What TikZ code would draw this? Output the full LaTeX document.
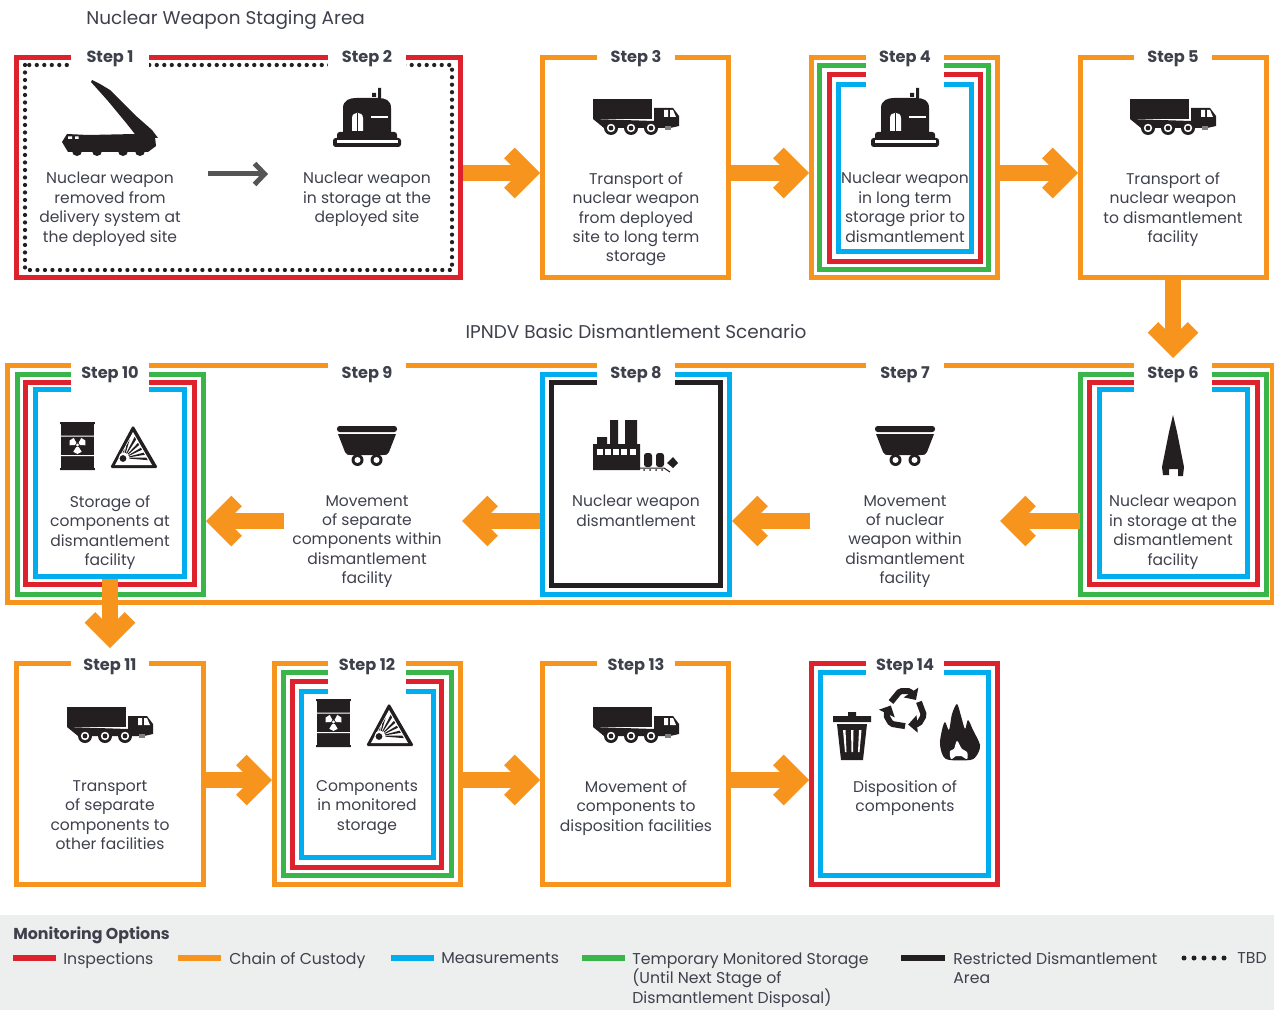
\documentclass[tikz,border=0pt]{standalone}
\usepackage{fontspec}
\setmainfont{Poppins}
\usetikzlibrary{arrows.meta, calc}

\definecolor{insred}{RGB}{221,33,45}
\definecolor{cocorange}{RGB}{247,148,30}
\definecolor{measblue}{RGB}{0,174,239}
\definecolor{tmsgreen}{RGB}{57,181,74}
\definecolor{iconblack}{RGB}{35,31,32}
\definecolor{inktext}{RGB}{62,64,76}
\definecolor{legendbg}{RGB}{237,238,238}
\definecolor{smallgrey}{RGB}{85,85,85}

\tikzset{
    framebox/.style={draw=#1, line width=0.1cm, rectangle, inner sep=0pt},
    stephead/.style={font=\fontsize{9.2}{11}\selectfont\bfseries, text=inktext, inner sep=0pt},
    stepcap/.style={font=\fontsize{8.85}{11.05}\selectfont, text=inktext, align=center, anchor=north, inner sep=0pt},
    rowtitle/.style={font=\fontsize{10.5}{12}\selectfont, text=inktext, inner sep=0pt},
    legendtext/.style={font=\fontsize{8.95}{11.05}\selectfont, text=inktext, align=left, anchor=north west, inner sep=0pt},
    flow/.style={draw=cocorange, line width=0.32cm, -{Straight Barb[length=0.4cm,width=0.8cm,line width=0.3cm,line cap=butt,line join=miter]}},
    smallflow/.style={draw=smallgrey, line width=0.1cm, -{Straight Barb[length=0.2cm,width=0.42cm,line width=0.1cm,line cap=butt,line join=miter]}},
    tbddots/.style={draw=iconblack, line width=0.085cm, line cap=round, dash pattern=on 0pt off 0.15cm},
    keyline/.style={draw=#1, line width=0.12cm},
    truck/.pic={
        \fill[iconblack] (-43,-16) -- (16,-16) -- (16,4) -- (-43,4) -- cycle;
        \fill[iconblack] (-43,4) -- (-32,13) -- (34,13) -- (43,11) -- (43,1) -- (37,-7) -- (18,-7) -- (18,6) -- cycle;
        \fill[white] (28,-5) rectangle (32,2) (34,-5) -- (37,-5) -- (40,2) -- (34,2) -- cycle;
        \fill[gray] (29,11) rectangle (35,15);
        \foreach \wx in {-25,-5,15} {
            \fill[iconblack] (\wx,13) circle (7);
            \fill[white] (\wx,13) circle (4.2);
            \fill[iconblack] (\wx,13) circle (2.4);
        }
    },
    bunker/.pic={
        \fill[iconblack] (11,-19) rectangle (14,-29) (5,-20) rectangle (9,-24);
        \fill[iconblack] (-24,15) -- (-24,-9) .. controls (-24,-17) and (-17,-19) .. (-11,-19) -- (11,-19) .. controls (18,-19) and (24,-17) .. (24,-9) -- (24,15) -- cycle;
        \fill[white] (-15,14) -- (-15,1) .. controls (-15,-6) and (-4,-6) .. (-4,1) -- (-4,14) -- cycle;
        \fill[iconblack] (-10.3,-4) rectangle (-8.7,15);
        \fill[white] (4,-1) rectangle (21,1);
        \fill[iconblack, rounded corners=1.5] (-30,15) rectangle (30,24);
        \fill[iconblack, rounded corners=1.5] (-34,21) rectangle (34,30);
        \fill[white] (-30,23) rectangle (31,26.5);
    },
    cart/.pic={
        \fill[iconblack, rounded corners=1.5] (-30,-8) rectangle (30,-2);
        \fill[iconblack] (-29,0) -- (29,0) -- (22,18) .. controls (21,21) and (19,21) .. (16,21) -- (-16,21) .. controls (-19,21) and (-21,21) .. (-22,18) -- cycle;
        \foreach \wx in {-9.5,9.5} {
            \fill[iconblack] (\wx,26) circle (6);
            \fill[white] (\wx,26) circle (3);
        }
    },
    barrel/.pic={
        \fill[iconblack] (0,0) rectangle (33,48);
        \fill[iconblack] (-0.8,0) rectangle (33.8,2) (-0.8,46) rectangle (33.8,48);
        \fill[white] (0,13.5) rectangle (33,14.5) (0,33) rectangle (33,34);
        \foreach \blade in {90,210,330} {
            \fill[white] ($(16.5,23)+(\blade-32:2.5)$) -- ($(16.5,23)+(\blade-32:8)$) -- ($(16.5,23)+(\blade:9)$) -- ($(16.5,23)+(\blade+32:8)$) -- ($(16.5,23)+(\blade+32:2.5)$) -- cycle;
        }
        \fill[white] (16.5,23) circle (1.6);
    },
    hazard/.pic={
        \fill[iconblack, rounded corners=1] (23,0) -- (48,43) -- (0,43) -- cycle;
        \fill[white] (23,7) -- (42,40) -- (5,40) -- cycle;
        \begin{scope}
            \clip (23,9) -- (40,39) -- (6,39) -- cycle;
            \foreach \ray in {205,228,250,268,284,300,316,332,348,2} {
                \fill[iconblack] ($(14,33)+(\ray-6.5:3)$) -- ($(14,33)+(\ray-3:36)$) -- ($(14,33)+(\ray+3:36)$) -- ($(14,33)+(\ray+6.5:3)$) -- cycle;
            }
        \end{scope}
        \fill[white] (14,33) circle (5.5);
        \fill[iconblack] (13,33.5) circle (3.4);
    }
}

\newcommand{\stepframe}[6]{\node[framebox=#6, minimum width={(#4-#2)*0.02cm}, minimum height={(#5-#3)*0.02cm}] (#1) at ({(#2+#4)/2},{(#3+#5)/2}) {};}
\newcommand{\steplabel}[5]{\fill[white] ({#2-39},{#3-10}) rectangle ({#2+39},#4); \node[stephead] (#1) at (#2,{#3+2.5}) {#5};}

\begin{document}
\begin{tikzpicture}[x=0.02cm, y=-0.02cm]
    \useasboundingbox (0,0) rectangle (1274,1010);
    \fill[legendbg] (0,915) rectangle (1274,1010);

    \node[rowtitle, anchor=west] (titleStaging) at (86,19.5) {Nuclear Weapon Staging Area};
    \node[rowtitle] (titleScenario) at (636,331.5) {IPNDV Basic Dismantlement Scenario};

    \stepframe{sa}{16.5}{57.5}{460.5}{277}{insred}
    \draw[tbddots] (25,65) rectangle (452,270);
    \stepframe{sc}{542.5}{57.5}{728.5}{277.5}{cocorange}
    \stepframe{sd}{811.5}{57.5}{997.5}{277.5}{cocorange}
    \stepframe{sdg}{819.5}{65.5}{988.5}{269.5}{tmsgreen}
    \stepframe{sdr}{829.5}{74.5}{980.5}{261.5}{insred}
    \stepframe{sdb}{838.5}{84.5}{971.5}{251.5}{measblue}
    \stepframe{se}{1080.5}{57.5}{1266.5}{277.5}{cocorange}

    \stepframe{swide}{7.5}{365.5}{1272}{602.5}{cocorange}
    \stepframe{sj}{17.5}{374.5}{203.5}{594.5}{tmsgreen}
    \stepframe{sjr}{25.5}{382.5}{194.5}{584.5}{insred}
    \stepframe{sjb}{35.5}{389.5}{184.5}{576.5}{measblue}
    \stepframe{sh}{542.5}{374.5}{729.5}{594.5}{measblue}
    \stepframe{shk}{551.5}{382.5}{720.5}{585.5}{iconblack}
    \stepframe{sf}{1080.5}{374.5}{1266.5}{594.5}{tmsgreen}
    \stepframe{sfr}{1089.5}{382.5}{1257.5}{584.5}{insred}
    \stepframe{sfb}{1099.5}{389.5}{1247.5}{576.5}{measblue}

    \stepframe{sk}{16.5}{663.5}{203.5}{884.5}{cocorange}
    \stepframe{sl}{274.5}{663.5}{460.5}{884.5}{cocorange}
    \stepframe{slg}{283.5}{672.5}{451.5}{875.5}{tmsgreen}
    \stepframe{slr}{292.5}{681.5}{441.5}{867.5}{insred}
    \stepframe{slb}{301.5}{691.5}{433.5}{857.5}{measblue}
    \stepframe{sm}{542.5}{663.5}{728.5}{884.5}{cocorange}
    \stepframe{sn}{811.5}{663.5}{997.5}{884.5}{insred}
    \stepframe{snb}{820.5}{672.5}{988.5}{875.5}{measblue}

    \steplabel{la}{110}{56}{70}{Step 1}
    \steplabel{lb}{367}{56}{70}{Step 2}
    \steplabel{lc}{636}{56}{62}{Step 3}
    \steplabel{ld}{905}{56}{90}{Step 4}
    \steplabel{le}{1173}{56}{62}{Step 5}
    \steplabel{lf}{1173}{372}{395}{Step 6}
    \steplabel{lg}{905}{372}{370}{Step 7}
    \steplabel{lh}{636}{372}{388}{Step 8}
    \steplabel{li}{367}{372}{370}{Step 9}
    \steplabel{lj}{110}{372}{395}{Step 10}
    \steplabel{lk}{110}{664}{670}{Step 11}
    \steplabel{ll}{367}{664}{697}{Step 12}
    \steplabel{lm}{636}{664}{670}{Step 13}
    \steplabel{ln}{905}{664}{678}{Step 14}

    \fill[iconblack] (92,80) -- (100,84) -- (110,90) -- (135,115) -- (152,130) -- (158,138) -- (138,138) -- (127,124) -- (108,101) -- (91,82) -- cycle;
    \fill[iconblack] (62,142) -- (67,134) -- (88,135) -- (135,134) -- (155,137) -- (156,146) -- (148,152) -- (68,152) -- cycle;
    \foreach \wx in {77,97,123,140} {
        \fill[iconblack] (\wx,151) circle (5);
    }
    \fill[white] (68,136.5) rectangle (72,139) (75,136.5) rectangle (78.5,139);

    \pic at (367,117) {bunker};
    \pic at (905,117) {bunker};
    \pic at (636,115) {truck};
    \pic at (1173,115) {truck};
    \pic at (110,723) {truck};
    \pic at (636,723) {truck};
    \pic at (905,434) {cart};
    \pic at (367,434) {cart};
    \pic at (61,422) {barrel};
    \pic at (317,699) {barrel};
    \pic at (110,425) {hazard};
    \pic at (366,703) {hazard};

    \fill[iconblack] (1173,415) -- (1177,432) -- (1184,467) -- (1183,476) -- (1178,476) -- (1178,469) -- (1169,469) -- (1169,475) -- (1163,475) -- (1162,467) -- (1169,432) -- cycle;

    \fill[iconblack] (593,444) rectangle (640,470) (597,437) rectangle (607,444) (610,420) rectangle (618,444) (625,420) rectangle (637,444);
    \foreach \wx in {597,605,613,621,630} {
        \fill[white] (\wx,449) rectangle ++(6,6);
    }
    \draw[iconblack, line width=0.02cm] (640,468) -- (664,468) -- (670,472);
    \fill[iconblack, rounded corners=1.5] (644,453) rectangle (652,467) (656,453) rectangle (664,467);
    \fill[iconblack] (673,457) -- (678,463) -- (673,468) -- (667,463) -- cycle;
    \foreach \wx in {644,650,656,662} {
        \fill[iconblack] (\wx,470) circle (1);
    }

    \fill[iconblack] (848,716) rectangle (856,712) (833,716) rectangle (871,722);
    \fill[iconblack] (837,724) -- (867,724) -- (863,760) -- (841,760) -- cycle;
    \fill[white] (843,730) -- (845.5,730) -- (846.5,752) -- (845,752) -- cycle (851,730) -- (853.5,730) -- (853,752) -- (851.5,752) -- cycle (859,730) -- (861.5,730) -- (859.5,752) -- (858,752) -- cycle;
    \foreach \rot in {0,120,240} {
        \begin{scope}[shift={(905,710)}, rotate=\rot]
            \draw[iconblack, line width=0.12cm, rounded corners=1, -{Triangle[length=0.18cm,width=0.34cm]}] (-14,-8) -- (-5,-19) -- (5,-19) -- (11,-10);
        \end{scope}
    }
    \fill[iconblack] plot[smooth cycle, tension=0.5] coordinates {(946,759) (940,745) (942,730) (945,722) (949,730) (952,714) (957,704) (961,716) (965,729) (968,720) (973,730) (980,745) (977,755) (970,760)};
    \fill[white] plot[smooth cycle, tension=0.6] coordinates {(951,759) (950,751) (954,749) (957,741) (962,749) (967,752) (967,759) (961,756) (956,756)};

    \node[stepcap] (ta) at (110,172) {Nuclear weapon\\removed from\\delivery system at\\the deployed site};
    \node[stepcap] (tb) at (367,172) {Nuclear weapon\\in storage at the\\deployed site};
    \node[stepcap] (tc) at (636,172) {Transport of\\nuclear weapon\\from deployed\\site to long term\\storage};
    \node[stepcap] (td) at (905,172) {Nuclear weapon\\in long term\\storage prior to\\dismantlement};
    \node[stepcap] (te) at (1173,172) {Transport of\\nuclear weapon\\to dismantlement\\facility};
    \node[stepcap] (tf) at (1173,495) {Nuclear weapon\\in storage at the\\dismantlement\\facility};
    \node[stepcap] (tg) at (905,495) {Movement\\of nuclear\\weapon within\\dismantlement\\facility};
    \node[stepcap] (th) at (636,495) {Nuclear weapon\\dismantlement};
    \node[stepcap] (ti) at (367,495) {Movement\\of separate\\components within\\dismantlement\\facility};
    \node[stepcap] (tj) at (110,495) {Storage of\\components at\\dismantlement\\facility};
    \node[stepcap] (tk) at (110,780) {Transport\\of separate\\components to\\other facilities};
    \node[stepcap] (tl) at (367,780) {Components\\in monitored\\storage};
    \node[stepcap] (tm) at (636,780) {Movement of\\components to\\disposition facilities};
    \node[stepcap] (tn) at (905,780) {Disposition of\\components};

    \coordinate (ga) at (208,174);
    \coordinate (gb) at (268,174);
    \draw[smallflow] (ga) -- (gb);

    \coordinate (ef) at (1173,358);
    \coordinate (fstart) at (1080,521);
    \coordinate (gtip) at (1000,521);
    \coordinate (gstart) at (810,521);
    \coordinate (istart) at (540,521);
    \coordinate (itip) at (462,521);
    \coordinate (jtip) at (206,521);
    \coordinate (istop) at (284,521);
    \coordinate (jstart) at (110,579);
    \coordinate (ktip) at (110,648);

    \draw[flow] (sa.east |- 0,173) -- (sc.west |- 0,173);
    \draw[flow] (sc.east |- 0,173) -- (sd.west |- 0,173);
    \draw[flow] (sd.east |- 0,173) -- (se.west |- 0,173);
    \draw[flow] (se.south -| ef) -- (ef);
    \draw[flow] (fstart) -- (gtip);
    \draw[flow] (gstart) -- (sh.east |- gstart);
    \draw[flow] (istart) -- (itip);
    \draw[flow] (istop) -- (jtip);
    \draw[flow] (jstart) -- (ktip);
    \draw[flow] (sk.east |- 0,780) -- (sl.west |- 0,780);
    \draw[flow] (sl.east |- 0,780) -- (sm.west |- 0,780);
    \draw[flow] (sm.east |- 0,780) -- (sn.west |- 0,780);

    \node[font=\fontsize{9}{11}\selectfont\bfseries, text=inktext, anchor=west, inner sep=0pt] (keyTitle) at (13,935) {Monitoring Options};
    \draw[keyline=insred] (13,958) -- (56,958);
    \node[legendtext] (keyIns) at (63,952) {Inspections};
    \draw[keyline=cocorange] (178,958) -- (221,958);
    \node[legendtext] (keyCoc) at (229,952) {Chain of Custody};
    \draw[keyline=measblue] (391,958) -- (434,958);
    \node[legendtext] (keyMeas) at (441,952) {Measurements};
    \draw[keyline=tmsgreen] (582,958) -- (625,958);
    \node[legendtext] (keyTms) at (632,952) {Temporary Monitored Storage\\(Until Next Stage of\\Dismantlement Disposal)};
    \draw[keyline=iconblack] (901,958) -- (945,958);
    \node[legendtext] (keyRda) at (953,952) {Restricted Dismantlement\\Area};
    \draw[tbddots, line width=0.1cm, dash pattern=on 0pt off 0.2cm] (1184,958) -- (1231,958);
    \node[legendtext] (keyTbd) at (1237,952) {TBD};
\end{tikzpicture}
\end{document}
